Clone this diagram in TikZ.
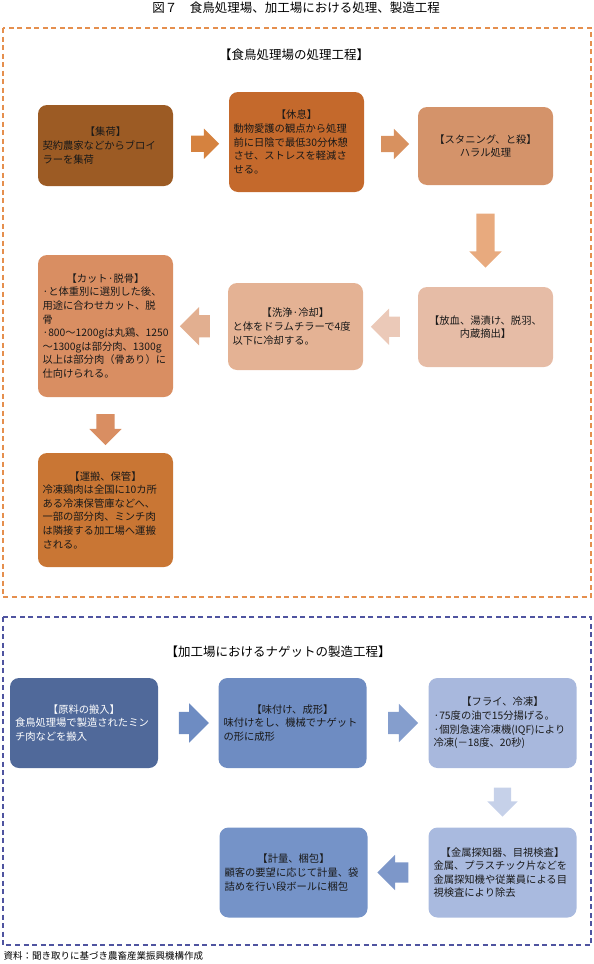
\documentclass[tikz,border=0pt]{standalone}
\usepackage{fontspec}
\setmainfont{Noto Sans CJK JP}
\usetikzlibrary{shapes.arrows,calc}

\definecolor{dashOr}{HTML}{E58F4E}
\definecolor{dashBl}{HTML}{4F54A0}
\definecolor{shukaC}{HTML}{9C5B24}
\definecolor{kyusokuC}{HTML}{C4692C}
\definecolor{stunC}{HTML}{D4936A}
\definecolor{houketsuC}{HTML}{E6BCA6}
\definecolor{senjoC}{HTML}{E4B294}
\definecolor{cutC}{HTML}{D98E62}
\definecolor{unpanC}{HTML}{C97634}
\definecolor{genryoC}{HTML}{50699A}
\definecolor{ajiC}{HTML}{6E8CC2}
\definecolor{fryC}{HTML}{A8B8DD}
\definecolor{kinzokuC}{HTML}{A9BADF}
\definecolor{keiryoC}{HTML}{7593C8}
\definecolor{arrOr}{HTML}{D5823F}

\begin{document}
\begin{tikzpicture}[x=1pt, y=-1pt,
  box/.style={rounded corners=9pt, align=left, inner sep=0pt,
    font=\fontsize{10.3}{13.6}\selectfont, text=black!90},
  obox/.style={box, minimum width=135pt, text width=126pt},
  bbox/.style={box, minimum width=148pt, minimum height=90pt, text width=138pt},
  blk/.style n args={4}{single arrow, draw=none, fill=#4, inner xsep=0pt,
    inner ysep={#2/2}, minimum height=#1, minimum width=#3,
    single arrow head extend={(#3-#2)/2}, single arrow head indent=0pt},
  ttl/.style={font=\fontsize{12.5}{15}\selectfont}
]

  % --- 0. 全体の枠 ---
  \useasboundingbox (0,0) rectangle (594,964);
  \node[ttl] (title) at (296,8) {図７　食鳥処理場、加工場における処理、製造工程};

  % --- 1. 食鳥処理場 ---
  \draw[dashOr, line width=1.2pt, dash pattern=on 5pt off 3.5pt] (3,28) rectangle (591,597);
  \node[ttl] (sub1) at (294,55) {【食鳥処理場の処理工程】};

  \node[obox, fill=shukaC, minimum height=81pt] (shuka) at (105.5,145.5)
    {\centering【集荷】\par\raggedright
     契約農家などからブロイ\\ラーを集荷};
  \node[obox, fill=kyusokuC, minimum height=100pt] (kyusoku) at (296.5,142)
    {\centering【休息】\par\raggedright
     動物愛護の観点から処理\\前に日陰で最低30分休憩\\させ、ストレスを軽減さ\\せる。};
  \node[obox, fill=stunC, minimum height=78pt, align=center] (stun) at (485.5,146)
    {【スタニング、と殺】\\ハラル処理};
  \node[obox, fill=houketsuC, minimum height=80pt, align=center] (houketsu) at (485.5,327)
    {【放血、湯漬け、脱羽、\\内蔵摘出】};
  \node[obox, fill=senjoC, minimum height=87pt] (senjo) at (295.5,326.5)
    {\centering【洗浄·冷却】\par\raggedright
     と体をドラムチラーで4度\\以下に冷却する。};
  \node[obox, fill=cutC, minimum height=142pt] (cut) at (105.5,326)
    {\centering【カット·脱骨】\par\raggedright
     ·と体重別に選別した後、\\用途に合わせカット、脱\\骨\\
     ·800～1200gは丸鶏、1250\\～1300gは部分肉、1300g\\以上は部分肉（骨あり）に\\仕向けられる。};
  \node[obox, fill=unpanC, minimum height=114pt] (unpan) at (105.5,510)
    {\centering【運搬、保管】\par\raggedright
     冷凍鶏肉は全国に10カ所\\ある冷凍保管庫などへ、\\一部の部分肉、ミンチ肉\\は隣接する加工場へ運搬\\される。};

  % 矢印
  \node[blk={28}{16}{30}{arrOr}] (o1) at ($(shuka.east)!0.5!(kyusoku.west)$) {};
  \node[blk={28}{16}{30}{stunC!90!orange}] (o2) at ($(kyusoku.east)!0.5!(stun.west)$) {};
  \node[blk={54}{18}{32}{senjoC!85!orange}, rotate=-90] (o3) at ($(stun.south)!0.5!(houketsu.north)$) {};
  \node[blk={29}{20}{36}{houketsuC!80!white}, rotate=180] (o4) at ($(houketsu.west)!0.5!(senjo.east)$) {};
  \node[blk={30}{22}{38}{senjoC!90!stunC}, rotate=180] (o5) at ($(senjo.west)!0.5!(cut.east)$) {};
  \node[blk={31}{18}{32}{cutC}, rotate=-90] (o6) at ($(cut.south)!0.5!(unpan.north)$) {};

  % --- 2. 加工場 ---
  \draw[dashBl, line width=1.2pt, dash pattern=on 5pt off 3.5pt] (3,617) rectangle (591,945);
  \node[ttl] (sub2) at (278,652) {【加工場におけるナゲットの製造工程】};

  \node[bbox, fill=genryoC, text=white] (genryo) at (84,723)
    {\centering【原料の搬入】\par\raggedright
     食鳥処理場で製造されたミン\\チ肉などを搬入};
  \node[bbox, fill=ajiC] (aji) at (292.5,723)
    {\centering【味付け、成形】\par\raggedright
     味付けをし、機械でナゲット\\の形に成形};
  \node[bbox, fill=fryC] (fry) at (502.5,723)
    {\centering【フライ、冷凍】\par\raggedright
     ·75度の油で15分揚げる。\\·個別急速冷凍機(IQF)により\\冷凍(－18度、20秒)};
  \node[bbox, fill=kinzokuC] (kinzoku) at (502.5,872.5)
    {\centering【金属探知器、目視検査】\par\raggedright
     金属、プラスチック片などを\\金属探知機や従業員による目\\視検査により除去};
  \node[bbox, fill=keiryoC] (keiryo) at (293.5,872.5)
    {\centering【計量、梱包】\par\raggedright
     顧客の要望に応じて計量、袋\\詰めを行い段ボールに梱包};

  % 矢印
  \node[blk={30}{22}{39}{ajiC}] (b1) at ($(genryo.east)!0.5!(aji.west)$) {};
  \node[blk={30}{22}{38}{ajiC!60!fryC}] (b2) at ($(aji.east)!0.5!(fry.west)$) {};
  \node[blk={29}{17}{30}{fryC!65!white}, rotate=-90] (b3) at ($(fry.south)!0.5!(kinzoku.north)$) {};
  \node[blk={31}{20}{35}{ajiC!75!fryC}, rotate=180] (b4) at ($(kinzoku.west)!0.5!(keiryo.east)$) {};

  % --- 3. 資料 ---
  \node[anchor=west, font=\fontsize{9.5}{12}\selectfont] (src) at (0,956)
    {資料：聞き取りに基づき農畜産業振興機構作成};

\end{tikzpicture}
\end{document}
